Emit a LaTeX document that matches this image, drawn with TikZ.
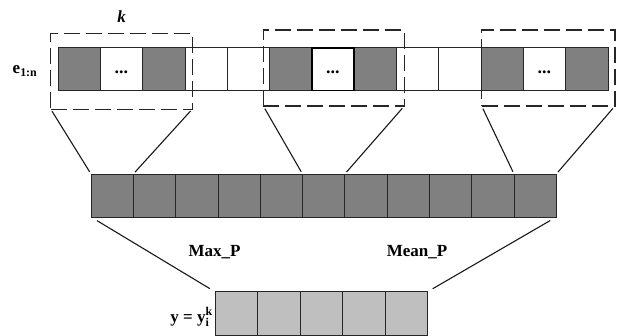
\documentclass[tikz,border=0pt]{standalone}
\usepackage{fontspec}
\setmainfont{Liberation Serif}
\begin{document}
\begin{tikzpicture}[x=1pt,y=-1pt,
  cell/.style={draw=black!85, line width=0.8pt, minimum width=42.3pt, minimum height=42.5pt, inner sep=0pt, outer sep=0pt, anchor=center},
  dk/.style={cell, fill=black!50},
  wt/.style={cell, fill=white},
  lt/.style={cell, fill=black!25},
  grp/.style={draw=black!85, line width=1.1pt, dash pattern=on 16pt off 6pt, inner sep=0pt, outer sep=0pt},
  conn/.style={draw=black!90, line width=1.1pt},
  lbl/.style={font=\fontsize{17}{19}\selectfont\bfseries, inner sep=0pt},
  dots/.style={font=\fontsize{18}{18}\selectfont\bfseries, inner sep=0pt, yshift=-3pt}]
\useasboundingbox (0,0) rectangle (620,335);
% top row
\foreach \i/\s in {1/dk,2/wt,3/dk,4/wt,5/wt,6/dk,7/wt,8/dk,9/wt,10/wt,11/dk,12/wt,13/dk}{
  \node[\s] (t\i) at ({58+42.3*(\i-0.5)},69) {};
}
\node[wt, draw=black, line width=1.5pt] (t7b) at (t7) {};
\node[dots] (d1) at (t2) {...};
\node[dots] (d2) at (t7) {...};
\node[dots] (d3) at (t12) {...};
% dashed groups
\node[grp, minimum width=141.6pt, minimum height=75.7pt] (g1) at (121.5,71.2) {};
\node[grp, minimum width=141pt, minimum height=76pt] (g2) at (333.8,68) {};
\node[grp, minimum width=133.3pt, minimum height=76pt] (g3) at (548.3,68) {};
% labels
\node[font=\fontsize{17}{19}\selectfont\bfseries\itshape, inner sep=0pt] (klbl) at (121.7,17) {k};
\node[font=\fontsize{17}{19}\selectfont\bfseries, inner sep=0pt] (elbl) at (25,71) {e\textsubscript{1:n}};
% middle row
\foreach \i in {1,...,11}{
  \node[dk, minimum height=43pt] (m\i) at ({91+42.3*(\i-0.5)},195.5) {};
}
% bottom row
\foreach \i in {1,...,5}{
  \node[lt, minimum width=42.5pt, minimum height=43.3pt] (b\i) at ({215+42.5*(\i-0.5)},313.4) {};
}
% connectors
\draw[conn, shorten <=2.5pt, shorten >=2.5pt] (g1.south west) -- (m1.north west);
\draw[conn, shorten <=2.5pt, shorten >=2.5pt] (g1.south east) -- (m2.north west);
\draw[conn, shorten <=3pt, shorten >=2.5pt] (g2.south west) -- (m6.north west);
\draw[conn, shorten <=3pt, shorten >=2.5pt] (g2.south east) -- (m7.north west);
\draw[conn, shorten <=3pt, shorten >=2.5pt] (g3.south west) -- (m11.north west);
\draw[conn, shorten <=3pt, shorten >=2.5pt] (g3.south east) -- (m11.north east);
\draw[conn, shorten <=7pt, shorten >=6pt] (m1.south west) -- (b1.north west);
\draw[conn, shorten <=7pt, shorten >=6pt] (m11.south east) -- (b5.north east);
\node[lbl] (maxp) at (214.5,252) {Max\_P};
\node[lbl] (meanp) at (417,252) {Mean\_P};
\node[font=\fontsize{17}{19}\selectfont\bfseries, inner sep=0pt, anchor=east] (ylbl) at (213,317) {y = y$^{\mathbf{k}}_{\mathbf{i}}$};
\end{tikzpicture}
\end{document}
